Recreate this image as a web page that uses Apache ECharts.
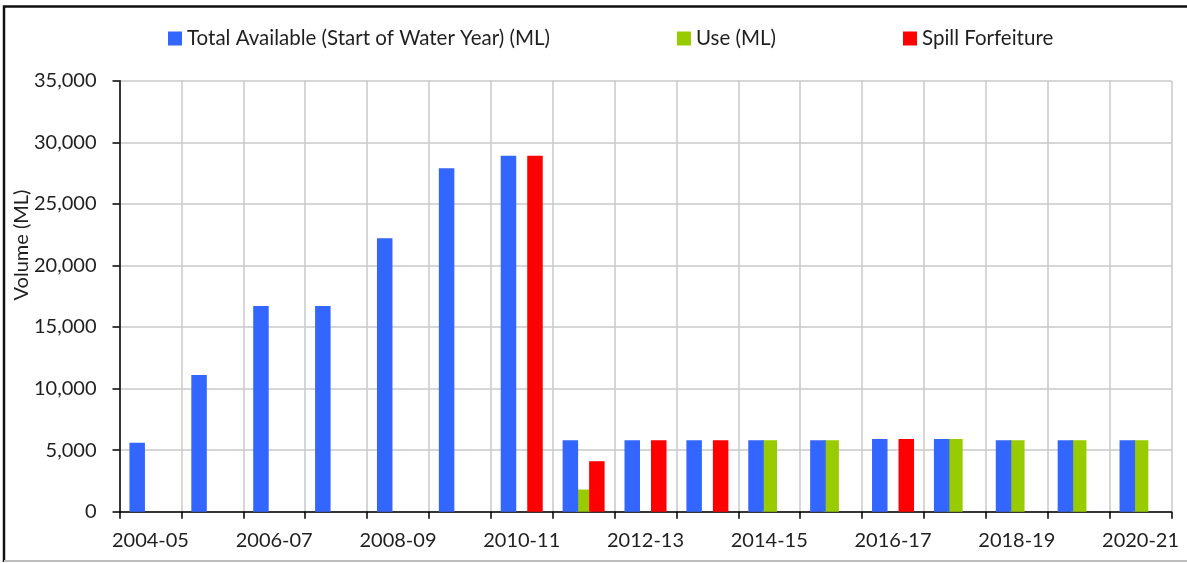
<!DOCTYPE html>
<html>
<head>
<meta charset="utf-8">
<script src="https://cdn.jsdelivr.net/npm/echarts@6/dist/echarts.min.js"></script>
<style>
  html, body { margin: 0; padding: 0; background: #fff; }
  #chart { width: 1187px; height: 563px; }
</style>
</head>
<body>
<div id="chart"></div>
<script>
// Water years on the category axis
const years = ['2004-05', '2005-06', '2006-07', '2007-08', '2008-09', '2009-10', '2010-11', '2011-12',
  '2012-13', '2013-14', '2014-15', '2015-16', '2016-17', '2017-18', '2018-19', '2019-20', '2020-21'];

// Volumes in ML (null where nothing is recorded)
const totalAvailable = [5600, 11100, 16700, 16700, 22200, 27900, 28900, 5800,
  5800, 5800, 5800, 5800, 5900, 5900, 5800, 5800, 5800];
const useML = [null, null, null, null, null, null, null, 1800,
  null, null, 5800, 5800, null, 5900, 5800, 5800, 5800];
const spillForfeiture = [null, null, null, null, null, null, 28900, 4100,
  5800, 5800, null, null, 5900, null, null, null, null];

// Value axis ticks
const yMin = 0, yMax = 35000, yStep = 5000;

const seriesNames = ['Total Available (Start of Water Year) (ML)', 'Use (ML)', 'Spill Forfeiture'];
const colors = ['#3366FF', '#99CC00', '#FF0000'];

const FONT = 'Lato';
const TEXT = '#1f1f1f';

const chart = echarts.init(document.getElementById('chart'), null, { renderer: 'canvas' });

const barBase = {
  type: 'bar',
  barWidth: 15.5,
  barGap: '-14.5%'
};

chart.setOption({
  animation: false,
  backgroundColor: '#ffffff',
  textStyle: { fontFamily: FONT, color: TEXT },
  legend: {
    data: seriesNames,
    left: 168,
    top: 28,
    padding: 0,
    itemWidth: 14,
    itemHeight: 14,
    itemGap: 127,
    icon: 'rect',
    textStyle: { fontFamily: FONT, fontSize: 20.5, color: TEXT }
  },
  grid: { left: 119.5, right: 15.5, top: 80.7, bottom: 51.3 },
  xAxis: {
    type: 'category',
    data: years,
    boundaryGap: true,
    axisLine: { lineStyle: { color: '#000', width: 1.5 } },
    axisTick: { show: true, interval: 0, length: 7, lineStyle: { color: '#000', width: 1.5 } },
    axisLabel: { interval: 1, margin: 19, fontFamily: FONT, fontSize: 20, color: TEXT },
    splitLine: { show: true, interval: 0, lineStyle: { color: '#C8C8C8', width: 1.5 } }
  },
  yAxis: {
    type: 'value',
    min: yMin,
    max: yMax,
    interval: yStep,
    axisLine: { show: true, lineStyle: { color: '#000', width: 1.5 } },
    axisTick: { show: true, length: 7, lineStyle: { color: '#000', width: 1.5 } },
    axisLabel: {
      margin: 23, fontFamily: FONT, fontSize: 20, color: TEXT,
      formatter: v => v.toLocaleString('en-US')
    },
    splitLine: { show: true, lineStyle: { color: '#C8C8C8', width: 1.5 } }
  },
  series: [
    Object.assign({}, barBase, { name: seriesNames[0], data: totalAvailable, itemStyle: { color: colors[0] }, z: 3 }),
    Object.assign({}, barBase, { name: seriesNames[1], data: useML, itemStyle: { color: colors[1] }, z: 2 }),
    Object.assign({}, barBase, { name: seriesNames[2], data: spillForfeiture, itemStyle: { color: colors[2] }, z: 3 })
  ],
  graphic: [
    // chart frame
    { type: 'polyline', silent: true, shape: { points: [[4, 562], [4, 6.5], [1187, 6.5]] },
      style: { stroke: '#111', lineWidth: 2.5, fill: null } },
    { type: 'line', silent: true, shape: { x1: 4, y1: 561, x2: 1187, y2: 561 },
      style: { stroke: '#BDBDBD', lineWidth: 2 } },
    // value axis title
    { type: 'text', silent: true, x: 22, y: 245, rotation: Math.PI / 2,
      style: { text: 'Volume (ML)', font: '20px ' + FONT, fill: TEXT, align: 'center', verticalAlign: 'middle' } }
  ]
});
</script>
</body>
</html>
